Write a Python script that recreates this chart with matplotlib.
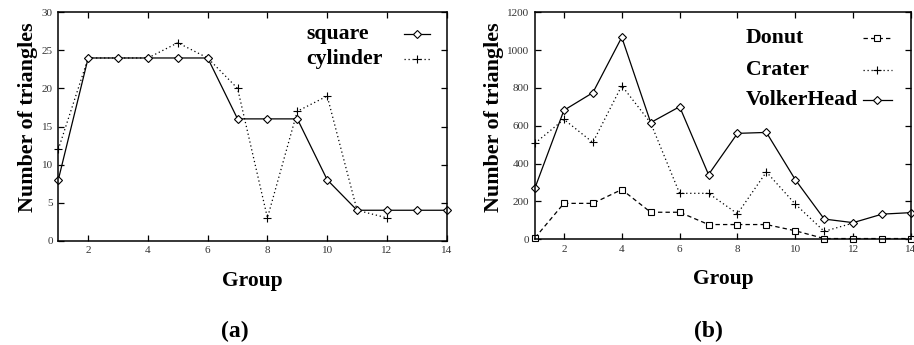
import matplotlib
matplotlib.use("Agg")
import matplotlib.pyplot as plt

plt.rcParams['font.family'] = ['Liberation Serif', 'DejaVu Serif']

# Panel (a)
groups_a = list(range(1, 15))
square = [8, 24, 24, 24, 24, 24, 16, 16, 16, 8, 4, 4, 4, 4]
groups_cyl = list(range(1, 13))
cylinder = [12, 24, 24, 24, 26, 24, 20, 3, 17, 19, 4, 3]

# Panel (b)
groups_b = list(range(1, 15))
donut = [8, 190, 190, 263, 143, 143, 78, 78, 78, 45, 4, 4, 4, 4]
groups_crater = list(range(1, 13))
crater = [508, 634, 512, 812, 615, 243, 243, 135, 356, 186, 42, 86]
volker = [272, 682, 775, 1068, 617, 701, 342, 560, 565, 315, 107, 88, 133, 141]

W, H = 914, 345
fig = plt.figure(figsize=(W / 100, H / 100), dpi=100)

def px_axes(x0, x1, ytop, ybot):
    return fig.add_axes([x0 / W, 1 - ybot / H, (x1 - x0) / W, (ybot - ytop) / H])

ax1 = px_axes(58.3, 446.7, 12.3, 240.7)
ax2 = px_axes(535, 911, 12.3, 239.3)

solid = dict(color='black', lw=0.9, marker='D', ms=3.6, mfc='white', mec='black', mew=0.8)
dotted = dict(color='black', lw=0.9, ls=(0, (1, 2.2)), marker='+', ms=5.5, mec='black', mew=0.8)
dashed = dict(color='black', lw=0.9, ls=(0, (3.5, 2.5)), marker='s', ms=4, mfc='white', mec='black', mew=0.8)

ax1.plot(groups_cyl, cylinder, clip_on=False, **dotted)
ax1.plot(groups_a, square, clip_on=False, **solid)

ax2.plot(groups_b, donut, clip_on=False, **dashed)
ax2.plot(groups_crater, crater, clip_on=False, **dotted)
ax2.plot(groups_b, volker, clip_on=False, **solid)

def legend(ax, labels, styles, xt, x0, x1, ys):
    # gnuplot style key: text left-aligned, sample line at right
    for lab, st, y in zip(labels, styles, ys):
        ax.text(xt, y, lab, transform=ax.transAxes, fontsize=15.7, fontweight='bold',
                va='center', ha='left')
        line_kw = {k: v for k, v in st.items() if not k.startswith('m')}
        mark_kw = {k: v for k, v in st.items() if k.startswith('m')}
        ax.plot([x0, x1], [y, y], transform=ax.transAxes, clip_on=False, **line_kw)
        ax.plot([(x0 + x1) / 2], [y], transform=ax.transAxes, clip_on=False, ls='none',
                color='black', **mark_kw)

legend(ax1, ['square', 'cylinder'], [solid, dotted], 0.638, 0.89, 0.957, [0.905, 0.795])
legend(ax2, ['Donut', 'Crater', 'VolkerHead'], [dashed, dotted, solid], 0.561, 0.872, 0.949,
       [0.885, 0.745, 0.612])

for ax, ymax, ystep in [(ax1, 30, 5), (ax2, 1200, 200)]:
    ax.set_xlim(1, 14)
    ax.set_ylim(0, ymax)
    ax.set_xticks(range(2, 15, 2))
    ax.set_yticks(range(0, ymax + 1, ystep))
    ax.tick_params(direction='in', top=True, right=True, length=4, width=0.9,
                   labelsize=8, labelcolor='#333333', pad=4)
    for s in ax.spines.values():
        s.set_linewidth(1.1)
    ax.set_xlabel('Group', fontsize=15.5, fontweight='bold', labelpad=11)
    ax.set_ylabel('Number of triangles', fontsize=15.8, fontweight='bold')

ax1.yaxis.set_label_coords(-0.052, 0.54)
ax2.yaxis.set_label_coords(-0.083, 0.537)

fig.text(235 / W, 1 - 331 / H, '(a)', fontsize=17, fontweight='bold', ha='center', va='center')
fig.text(708 / W, 1 - 331 / H, '(b)', fontsize=17, fontweight='bold', ha='center', va='center')

fig.savefig('out.png', dpi=100)
